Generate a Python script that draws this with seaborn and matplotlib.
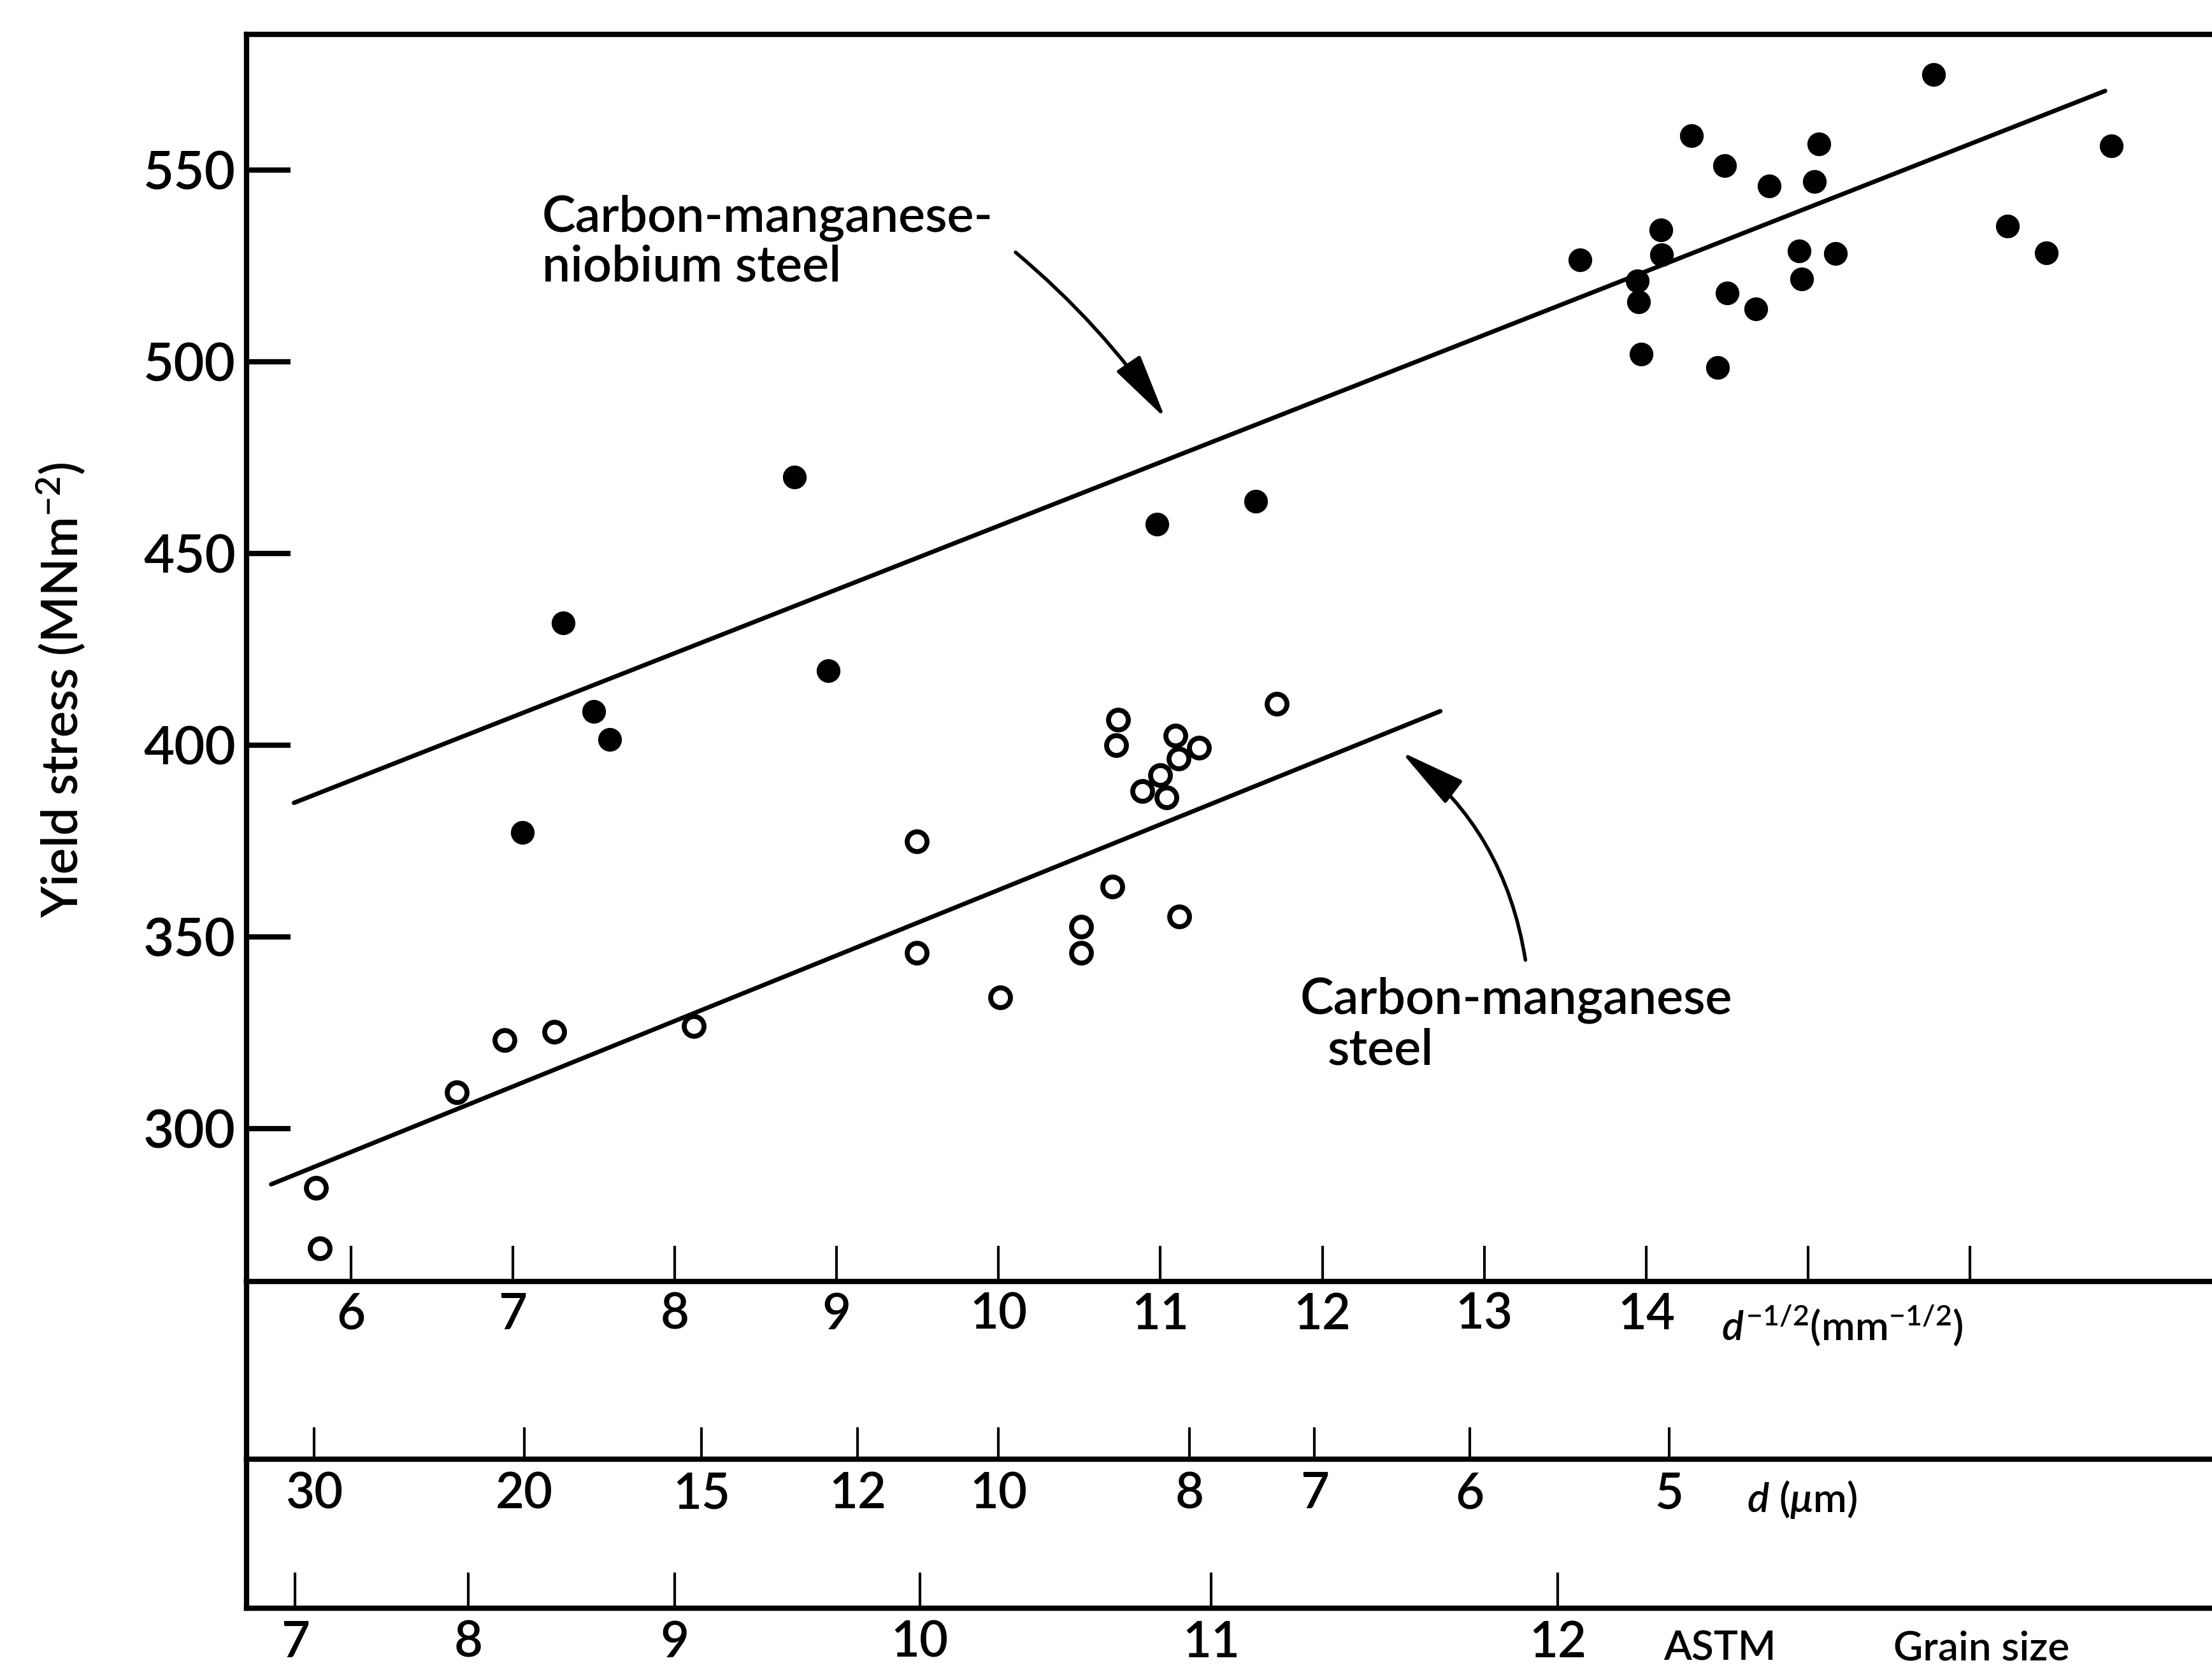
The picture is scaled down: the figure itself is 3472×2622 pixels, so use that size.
import numpy as np
import matplotlib
matplotlib.use("Agg")
import matplotlib.pyplot as plt
import seaborn as sns

# ---------------- data ----------------
# Carbon-manganese-niobium steel (filled circles): x = d^-1/2 (mm^-1/2), y = yield stress (MN m^-2)
nb_x = [7.31, 7.50, 7.60, 7.06, 8.74, 8.95, 10.98, 11.59,
        13.59, 13.945, 13.954, 13.968, 14.089, 14.095, 14.281, 14.483,
        14.501, 14.442, 14.676, 14.760, 14.946, 14.960, 15.037, 15.067,
        15.167, 15.773, 16.230, 16.470, 16.871]
nb_y = [432.0, 408.9, 401.5, 377.3, 469.9, 419.5, 457.7, 463.6,
        526.7, 521.1, 515.6, 502.0, 534.4, 528.0, 559.1, 551.2,
        518.0, 498.5, 513.8, 545.9, 529.0, 521.7, 547.0, 556.8,
        528.3, 575.0, 535.5, 528.5, 556.3]

# Carbon-manganese steel (open circles)
cm_x = [10.997, 5.785, 5.807, 6.655, 6.950, 7.257, 8.118, 9.496, 9.496,
        10.012, 10.511, 10.511, 10.702, 10.740, 10.726, 11.091, 11.238,
        11.112, 10.887, 11.037, 11.717, 11.115]
cm_y = [392.3, 284.5, 268.8, 309.5, 323.1, 325.2, 326.7, 374.9, 345.9,
        334.2, 352.7, 345.9, 363.1, 406.7, 400.1, 402.6, 399.4,
        396.5, 388.0, 386.4, 410.9, 355.4]

# fitted lines (end points)
nb_line_x = [5.649, 16.834]
nb_line_y = [385.0, 570.7]
cm_line_x = [5.508, 12.728]
cm_line_y = [285.5, 408.9]

# axis ticks
y_ticks = [300, 350, 400, 450, 500, 550]
dinv_ticks = [6, 7, 8, 9, 10, 11, 12, 13, 14, 15, 16]
dinv_labels = ["6", "7", "8", "9", "10", "11", "12", "13", "14", "", ""]
d_um_ticks = [30, 20, 15, 12, 10, 8, 7, 6, 5]
astm_ticks = [7, 8, 9, 10, 11, 12]

# ---------------- style ----------------
sns.set_style("ticks")
plt.rcParams["font.family"] = ["Lato", "DejaVu Sans"]
plt.rcParams["font.weight"] = "semibold"
plt.rcParams["mathtext.fontset"] = "custom"
plt.rcParams["mathtext.rm"] = "Lato:semibold"
plt.rcParams["mathtext.it"] = "Lato:italic:semibold"
plt.rcParams["mathtext.bf"] = "Lato:bold"
for k in ["axes.edgecolor", "xtick.color", "ytick.color", "text.color", "axes.labelcolor"]:
    plt.rcParams[k] = "black"

XLIM = (5.355, 17.498)
YLIM = (260.1, 585.4)

fig = plt.figure(figsize=(17.365, 13.11), dpi=200)
left = 0.11135
ax3 = fig.add_axes([left, 0.03682, 1 - left, 0.12627 - 0.03682])
ax2 = fig.add_axes([left, 0.12627, 1 - left, 0.23252 - 0.12627])
ax = fig.add_axes([left, 0.23252, 1 - left, 0.97931 - 0.23252])

# ---------------- main panel ----------------
sns.lineplot(x=nb_line_x, y=nb_line_y, ax=ax, color="black", linewidth=2.5,
             sort=False, estimator=None, zorder=2)
sns.lineplot(x=cm_line_x, y=cm_line_y, ax=ax, color="black", linewidth=2.5,
             sort=False, estimator=None, zorder=2)
sns.scatterplot(x=nb_x, y=nb_y, ax=ax, color="black", edgecolor="black",
                linewidth=0, s=180, zorder=3, clip_on=False)
sns.scatterplot(x=cm_x, y=cm_y, ax=ax, color="white", edgecolor="black",
                linewidth=2.8, s=125, zorder=3, clip_on=False)

ax.set_xlim(*XLIM)
ax.set_ylim(*YLIM)
ax.set_xlabel("")
ax.set_ylabel("")
ax.set_yticks(y_ticks)
ax.set_yticklabels([str(v) for v in y_ticks])
ax.set_xticks(dinv_ticks)
ax.set_xticklabels(dinv_labels)
ax.tick_params(axis="y", direction="in", length=25, width=3, pad=6,
               labelsize=30, left=True, right=False)
ax.tick_params(axis="x", direction="in", length=20, width=1.5, pad=6,
               labelsize=28, bottom=True, top=False)
ax.spines["right"].set_visible(False)
for s in ["top", "left", "bottom"]:
    ax.spines[s].set_linewidth(3)
ax.set_facecolor("none")

# annotations
ax.text(7.18, 534.1, "Carbon-manganese-", fontsize=28.5, va="baseline", ha="left")
ax.text(7.18, 521.0, "niobium steel", fontsize=28.5, va="baseline", ha="left")
ax.text(11.864, 330.1, "Carbon-manganese", fontsize=28.5, va="baseline", ha="left")
ax.text(12.034, 316.7, "steel", fontsize=28.5, va="baseline", ha="left")

arrow_style = "-|>,head_length=1.6,head_width=0.35"
ax.annotate("", xy=(11.03, 485.3), xytext=(10.105, 528.6),
            arrowprops=dict(arrowstyle=arrow_style, mutation_scale=20, lw=2.0,
                            color="black", connectionstyle="arc3,rad=-0.07",
                            shrinkA=0, shrinkB=0))
ax.annotate("", xy=(12.487, 398.3), xytext=(13.254, 344.0),
            arrowprops=dict(arrowstyle=arrow_style, mutation_scale=20, lw=2.0,
                            color="black", connectionstyle="arc3,rad=0.2",
                            shrinkA=0, shrinkB=0))

ax.annotate(r"$d^{-1/2}$(mm$^{-1/2}$)", xy=(14.465, 0), xycoords=("data", "axes fraction"),
            xytext=(0, -33), textcoords="offset points", va="baseline", ha="left",
            fontsize=23, annotation_clip=False)

# ---------------- d (um) scale ----------------
ax2.set_xlim(*XLIM)
ax2.set_ylim(0, 1)
ax2.set_yticks([])
ax2.set_xticks([np.sqrt(1000.0 / d) for d in d_um_ticks])
ax2.set_xticklabels([str(d) for d in d_um_ticks])
ax2.tick_params(axis="x", direction="in", length=18, width=1.5, pad=7,
                labelsize=28, bottom=True, top=False)
for s in ["top", "right"]:
    ax2.spines[s].set_visible(False)
for s in ["left", "bottom"]:
    ax2.spines[s].set_linewidth(3)
ax2.set_facecolor("none")
ax2.annotate(r"$d$ ($\mu$m)", xy=(14.622, 0), xycoords=("data", "axes fraction"),
             xytext=(0, -30), textcoords="offset points", va="baseline", ha="left",
             fontsize=23, annotation_clip=False)

# ---------------- ASTM grain size scale ----------------
ax3.set_xlim(*XLIM)
ax3.set_ylim(0, 1)
ax3.set_yticks([])
ax3.set_xticks([2 ** ((g + 3) / 4.0) for g in astm_ticks])
ax3.set_xticklabels([str(g) for g in astm_ticks])
ax3.tick_params(axis="x", direction="in", length=20, width=1.5, pad=6.5,
                labelsize=28, bottom=True, top=False)
for s in ["top", "right"]:
    ax3.spines[s].set_visible(False)
for s in ["left", "bottom"]:
    ax3.spines[s].set_linewidth(3)
ax3.set_facecolor("none")
ax3.annotate("ASTM", xy=(14.108, 0), xycoords=("data", "axes fraction"),
             xytext=(0, -29), textcoords="offset points", va="baseline", ha="left",
             fontsize=23, annotation_clip=False)
ax3.annotate("Grain size", xy=(15.528, 0), xycoords=("data", "axes fraction"),
             xytext=(0, -29), textcoords="offset points", va="baseline", ha="left",
             fontsize=23, annotation_clip=False)

# y label
fig.text(0.0274, 0.587, "Yield stress (MNm$^{-2}$)", rotation=90,
         ha="center", va="center", fontsize=28)

fig.savefig("out.png", dpi=200)
